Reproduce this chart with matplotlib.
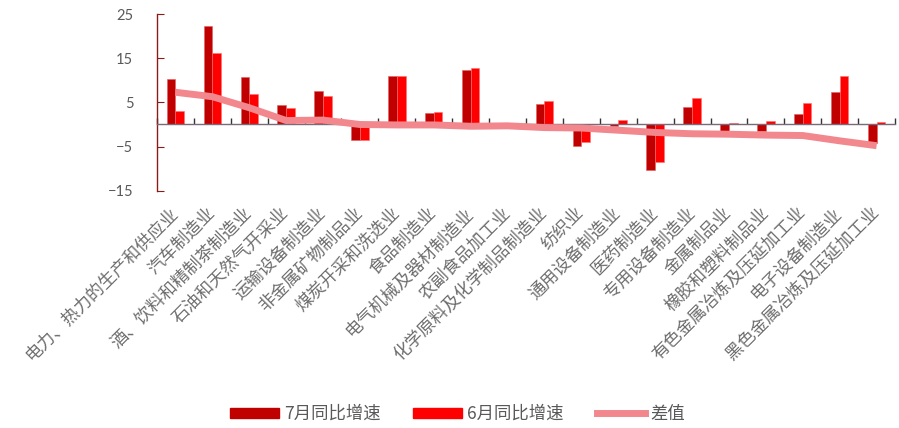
import numpy as np
import matplotlib
matplotlib.use("Agg")
import matplotlib.pyplot as plt
from matplotlib.patches import Patch
from matplotlib.lines import Line2D

plt.rcParams['font.family'] = ['Noto Sans CJK SC', 'DejaVu Sans']

categories = [
    "电力、热力的生产和供应业", "汽车制造业", "酒、饮料和精制茶制造业", "石油和天然气开采业",
    "运输设备制造业", "非金属矿物制品业", "煤炭开采和洗选业", "食品制造业",
    "电气机械及器材制造业", "农副食品加工业", "化学原料及化学制品制造业", "纺织业",
    "通用设备制造业", "医药制造业", "专用设备制造业", "金属制品业",
    "橡胶和塑料制品业", "有色金属冶炼及压延加工业", "电子设备制造业", "黑色金属冶炼及压延加工业",
]
jul = [10.3, 22.4, 10.8, 4.5, 7.6, -3.6, 10.9, 2.7, 12.4, 0.1,
       4.6, -4.8, -0.3, -10.3, 4.0, -1.8, -1.5, 2.3, 7.3, -4.1]
jun = [3.0, 16.1, 7.0, 3.7, 6.5, -3.6, 11.0, 2.8, 12.9, 0.2,
       5.4, -4.0, 1.0, -8.4, 6.1, 0.3, 0.9, 4.8, 11.0, 0.5]
diff = [7.3, 6.3, 3.8, 0.9, 1.0, 0.0, -0.1, -0.1, -0.4, -0.3,
        -0.7, -0.8, -1.3, -1.8, -2.1, -2.2, -2.4, -2.5, -3.7, -4.8]
yticks = [-15, -5, 5, 15, 25]
legend_labels = ["7月同比增速", "6月同比增速", "差值"]

c_jul = "#C00000"
c_jun = "#FF0000"
c_diff = "#F2878E"
gray = "#595959"
label_gray = "#6E6E6E"
spine_c = "#8B1A1A"

fig = plt.figure(figsize=(8.99, 4.28), dpi=100)
ax = fig.add_axes([0.1746, 0.5544, 0.8210, 0.4126])

x = np.arange(len(categories))
w = 0.235
ax.bar(x - w / 2, jul, width=w, color=c_jul, edgecolor="#E06060", linewidth=0.4, zorder=2)
ax.bar(x + w / 2, jun, width=w, color=c_jun, edgecolor="#FF7070", linewidth=0.4, zorder=2)
ax.plot(x, diff, color=c_diff, lw=5, solid_capstyle="butt", zorder=3)

ax.set_xlim(-0.5, len(categories) - 0.5)
ax.set_ylim(-15, 25)
ax.set_yticks(yticks)
ax.tick_params(axis="y", direction="in", length=5, color=spine_c, labelcolor=gray,
               labelsize=10.5, pad=17)
for lab in ax.get_yticklabels():
    lab.set_fontfamily("Lato")

for s in ["top", "right"]:
    ax.spines[s].set_visible(False)
ax.spines["left"].set_color(spine_c)
ax.spines["left"].set_linewidth(1.0)
ax.spines["bottom"].set_position(("data", 0))
ax.spines["bottom"].set_color("#7A6A7A")
ax.spines["bottom"].set_linewidth(1.0)

ax.set_xticks(x)
ax.set_xticklabels([])
ax.tick_params(axis="x", which="major", length=0)
ax.set_xticks(np.arange(-0.5, len(categories), 1), minor=True)
ax.tick_params(axis="x", which="minor", direction="in", length=4, color="#333333", width=1)

sec = ax.secondary_xaxis(0)
sec.set_xticks(x)
sec.set_xticklabels(categories, rotation=45, ha="right", va="center",
                    rotation_mode="anchor", fontsize=12.5, color=label_gray)
sec.tick_params(length=0, pad=14)
sec.spines["bottom"].set_visible(False)

handles = [
    Patch(facecolor=c_jul, edgecolor=c_jul),
    Patch(facecolor=c_jun, edgecolor=c_jun),
    Line2D([0], [0], color=c_diff, lw=5),
]
leg = fig.legend(handles, legend_labels, loc="center", bbox_to_anchor=(0.509, 0.033),
                 ncol=3, frameon=False, fontsize=12.5, handlelength=2.8,
                 handleheight=0.5, handletextpad=0.3, columnspacing=1.9)
for t in leg.get_texts():
    t.set_color(gray)

fig.savefig("out.png", dpi=100)
